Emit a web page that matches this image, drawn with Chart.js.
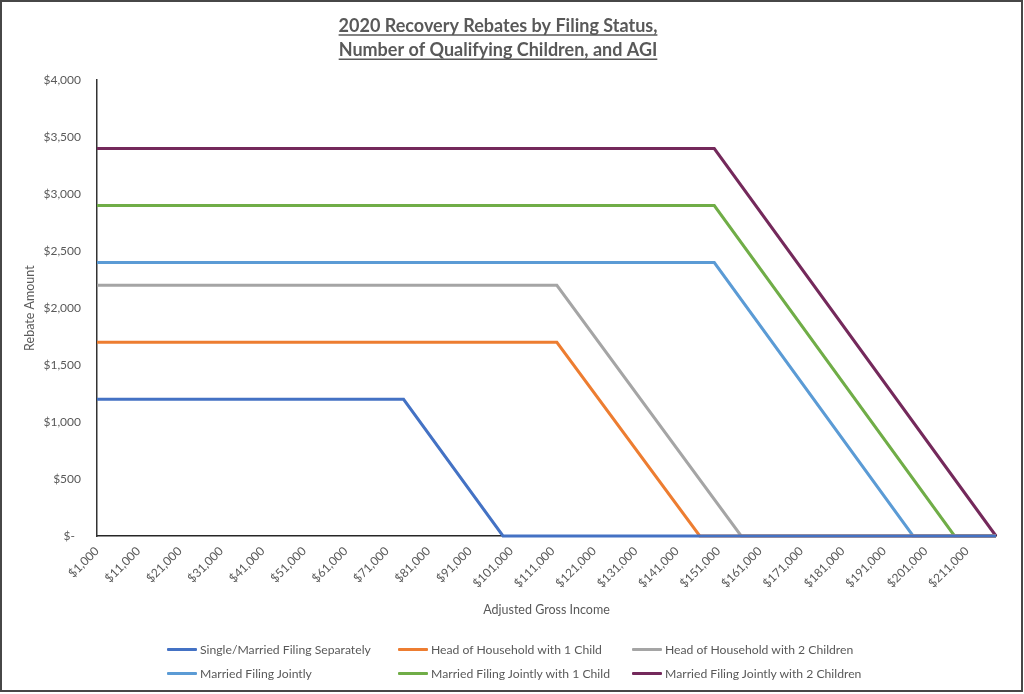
<!DOCTYPE html>
<html>
<head>
<meta charset="utf-8">
<script src="https://cdn.jsdelivr.net/npm/chart.js@4.4.1/dist/chart.umd.min.js"></script>
<style>
  html, body { margin: 0; padding: 0; background: #ffffff; }
  #wrap { position: relative; width: 1024px; height: 694px; overflow: hidden; }
  #c { position: absolute; left: 0; top: 0; width: 1024px; height: 694px; }
  #frame { position: absolute; left: 0; top: 0; width: 1023px; height: 692px; box-sizing: border-box;
           border: 2px solid #474747; pointer-events: none; }
  #legend { position: absolute; left: 167px; top: 637px; display: grid;
            grid-template-columns: 231px 234px 240px; grid-auto-rows: 24px;
            font-family: Lato, "Open Sans", sans-serif; font-size: 12.2px; color: #595959; }
  .item { display: flex; align-items: center; white-space: nowrap; }
  .sw { width: 30px; height: 3px; margin-right: 3px; border-radius: 1px; }
</style>
</head>
<body>
<div id="wrap">
  <canvas id="c" width="1024" height="694"></canvas>
  <div id="legend"></div>
  <div id="frame"></div>
</div>
<script>
// ---- data ----
const titleLines = ['2020 Recovery Rebates by Filing Status,', 'Number of Qualifying Children, and AGI'];
const xAxisTitle = 'Adjusted Gross Income';
const yAxisTitle = 'Rebate Amount';

const seriesNames = [
  'Single/Married Filing Separately',
  'Head of Household with 1 Child',
  'Head of Household with 2 Children',
  'Married Filing Jointly',
  'Married Filing Jointly with 1 Child',
  'Married Filing Jointly with 2 Children'
];
const seriesColors = ['#4472C4', '#ED7D31', '#A5A5A5', '#5B9BD5', '#70AD47', '#74295B'];

// AGI breakpoints and rebate amounts at those points
const singleAGI   = [1000, 75000, 99000, 218000];
const singleAmt   = [1200, 1200, 0, 0];
const hoh1AGI     = [1000, 112000, 146500, 218000];
const hoh1Amt     = [1700, 1700, 0, 0];
const hoh2AGI     = [1000, 112000, 156500, 218000];
const hoh2Amt     = [2200, 2200, 0, 0];
const mfjAGI      = [1000, 150000, 198000, 218000];
const mfjAmt      = [2400, 2400, 0, 0];
const mfj1AGI     = [1000, 150000, 208000, 218000];
const mfj1Amt     = [2900, 2900, 0, 0];
const mfj2AGI     = [1000, 150000, 218000];
const mfj2Amt     = [3400, 3400, 0];

const xMin = 1000, xMax = 218000;
const xTickValues = [1000, 11000, 21000, 31000, 41000, 51000, 61000, 71000, 81000, 91000, 101000,
                     111000, 121000, 131000, 141000, 151000, 161000, 171000, 181000, 191000, 201000, 211000];
const xTickLabels = ['$1,000', '$11,000', '$21,000', '$31,000', '$41,000', '$51,000', '$61,000', '$71,000',
                     '$81,000', '$91,000', '$101,000', '$111,000', '$121,000', '$131,000', '$141,000',
                     '$151,000', '$161,000', '$171,000', '$181,000', '$191,000', '$201,000', '$211,000'];
const yTickValues = [0, 500, 1000, 1500, 2000, 2500, 3000, 3500, 4000];
const yTickLabels = ['$-', '$500', '$1,000', '$1,500', '$2,000', '$2,500', '$3,000', '$3,500', '$4,000'];

// ---- build chart ----
const xs = [singleAGI, hoh1AGI, hoh2AGI, mfjAGI, mfj1AGI, mfj2AGI];
const ys = [singleAmt, hoh1Amt, hoh2Amt, mfjAmt, mfj1Amt, mfj2Amt];
const toPoints = (a, b) => a.map((v, i) => ({ x: v, y: b[i] }));

const datasets = seriesNames.map((name, i) => ({
  label: name,
  data: toPoints(xs[i], ys[i]),
  borderColor: seriesColors[i],
  backgroundColor: seriesColors[i],
  borderWidth: 3,
  pointRadius: 0,
  tension: 0,
  fill: false,
  clip: false
}));

const FONT = 'Lato, "Open Sans", sans-serif';
const GREY = '#595959';

const underlineTitle = {
  id: 'underlineTitle',
  afterDraw(chart) {
    const tb = chart.titleBlock;
    if (!tb) return;
    const opts = chart.options.plugins.title;
    const ctx = chart.ctx;
    const size = opts.font.size;
    const lh = opts.font.size * opts.font.lineHeight;
    ctx.save();
    ctx.font = 'bold ' + size + 'px ' + FONT;
    ctx.strokeStyle = GREY;
    ctx.lineWidth = 1.5;
    const cx = (tb.left + tb.right) / 2;
    titleLines.forEach((t, i) => {
      const w = ctx.measureText(t).width;
      const y = tb.top + opts.padding.top + lh / 2 + i * lh + 9;
      ctx.beginPath();
      ctx.moveTo(cx - w / 2, y);
      ctx.lineTo(cx + w / 2, y);
      ctx.stroke();
    });
    ctx.restore();
  }
};

const chart = new Chart(document.getElementById('c'), {
  type: 'line',
  data: { datasets },
  plugins: [underlineTitle],
  options: {
    responsive: false,
    animation: false,
    devicePixelRatio: 1,
    layout: { padding: { left: 0, right: 28, top: 0, bottom: 77 } },
    plugins: {
      legend: { display: false },
      tooltip: { enabled: false },
      title: {
        display: true,
        text: titleLines,
        color: GREY,
        font: { family: FONT, size: 18, weight: 'bold', lineHeight: 1.34 },
        padding: { top: 14, bottom: 18 }
      }
    },
    scales: {
      x: {
        type: 'linear',
        min: xMin,
        max: xMax,
        afterBuildTicks: (s) => { s.ticks = xTickValues.map(v => ({ value: v })); },
        afterFit: (s) => { s.height = 81; },
        grid: { display: false, drawTicks: false },
        border: { display: true, color: '#262626', width: 1.5 },
        ticks: {
          autoSkip: false,
          maxRotation: 45,
          minRotation: 45,
          padding: 8,
          color: GREY,
          font: { family: FONT, size: 12 },
          callback: (v, i) => xTickLabels[i]
        },
        title: {
          display: true,
          text: xAxisTitle,
          color: GREY,
          font: { family: FONT, size: 12.5 },
          padding: { top: 0, bottom: 0 }
        }
      },
      y: {
        min: 0,
        max: 4000,
        afterBuildTicks: (s) => { s.ticks = yTickValues.map(v => ({ value: v })); },
        afterFit: (s) => { s.width = 97; },
        grid: { display: false, drawTicks: false },
        border: { display: true, color: '#333333', width: 1.5 },
        ticks: {
          padding: 16,
          color: GREY,
          font: { family: FONT, size: 12 },
          callback: (v, i) => yTickLabels[i] === '$-' ? yTickLabels[i] + '\u2002' : yTickLabels[i]
        },
        title: {
          display: true,
          text: yAxisTitle,
          color: GREY,
          font: { family: FONT, size: 12.5 },
          padding: { top: 22, bottom: 0 }
        }
      }
    }
  }
});

// ---- legend (3 columns, like the reference) ----
const legend = document.getElementById('legend');
chart.data.datasets.forEach(ds => {
  const item = document.createElement('div');
  item.className = 'item';
  const sw = document.createElement('span');
  sw.className = 'sw';
  sw.style.background = ds.borderColor;
  const tx = document.createElement('span');
  tx.textContent = ds.label;
  item.appendChild(sw);
  item.appendChild(tx);
  legend.appendChild(item);
});
</script>
</body>
</html>
